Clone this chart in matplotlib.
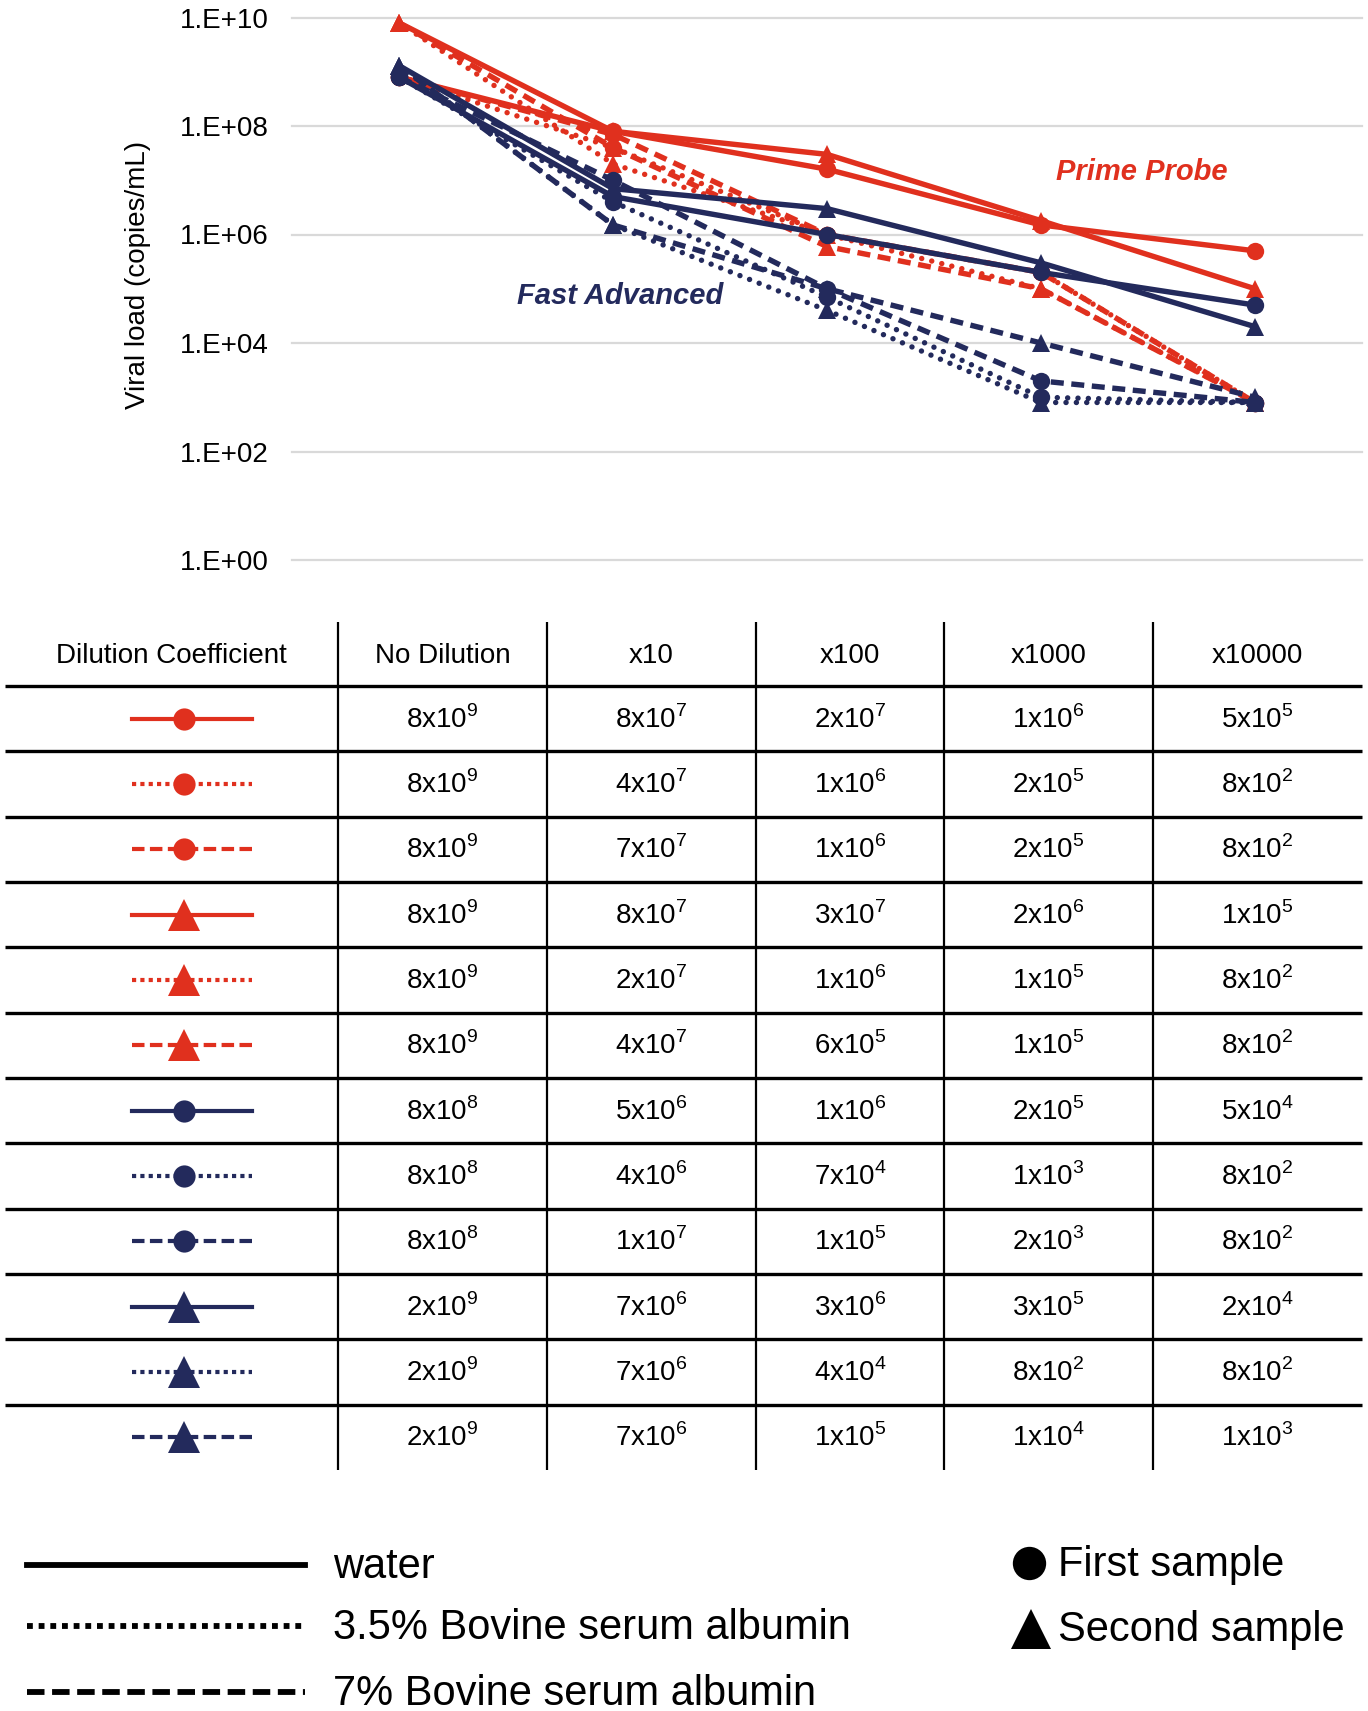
import matplotlib.pyplot as plt
import numpy as np

plt.rcParams['font.family'] = ['Liberation Sans', 'DejaVu Sans']
plt.rcParams['mathtext.fontset'] = 'custom'
plt.rcParams['mathtext.rm'] = 'Liberation Sans'

RED = '#E0301E'
NAVY = '#232A5C'

dilutions = ['No Dilution', 'x10', 'x100', 'x1000', 'x10000']
y_ticks = [1e0, 1e2, 1e4, 1e6, 1e8, 1e10]
y_tick_labels = ['1.E+00', '1.E+02', '1.E+04', '1.E+06', '1.E+08', '1.E+10']

# values as plotted in the chart (copies/mL)
pp_water_1 = [8e8, 8e7, 1.6e7, 1.5e6, 5e5]
pp_bsa35_1 = [8e8, 4e7, 1e6, 2e5, 8e2]
pp_bsa7_1 = [8e8, 7e7, 1e6, 2e5, 8e2]
pp_water_2 = [8e9, 8e7, 3e7, 1.8e6, 1e5]
pp_bsa35_2 = [8e9, 2e7, 1e6, 1e5, 8e2]
pp_bsa7_2 = [8e9, 4e7, 6e5, 1e5, 8e2]
fa_water_1 = [8e8, 5e6, 1e6, 2e5, 5e4]
fa_bsa35_1 = [8e8, 4e6, 7e4, 1e3, 8e2]
fa_bsa7_1 = [8e8, 1e7, 1e5, 2e3, 8e2]
fa_water_2 = [1.3e9, 7e6, 3e6, 3e5, 2e4]
fa_bsa35_2 = [1.3e9, 1.5e6, 4e4, 8e2, 8e2]
fa_bsa7_2 = [1.3e9, 1.5e6, 1e5, 1e4, 1e3]

# values printed in the table (mantissa x 10^exponent)
table_values = [
    ['8x10^9', '8x10^7', '2x10^7', '1x10^6', '5x10^5'],
    ['8x10^9', '4x10^7', '1x10^6', '2x10^5', '8x10^2'],
    ['8x10^9', '7x10^7', '1x10^6', '2x10^5', '8x10^2'],
    ['8x10^9', '8x10^7', '3x10^7', '2x10^6', '1x10^5'],
    ['8x10^9', '2x10^7', '1x10^6', '1x10^5', '8x10^2'],
    ['8x10^9', '4x10^7', '6x10^5', '1x10^5', '8x10^2'],
    ['8x10^8', '5x10^6', '1x10^6', '2x10^5', '5x10^4'],
    ['8x10^8', '4x10^6', '7x10^4', '1x10^3', '8x10^2'],
    ['8x10^8', '1x10^7', '1x10^5', '2x10^3', '8x10^2'],
    ['2x10^9', '7x10^6', '3x10^6', '3x10^5', '2x10^4'],
    ['2x10^9', '7x10^6', '4x10^4', '8x10^2', '8x10^2'],
    ['2x10^9', '7x10^6', '1x10^5', '1x10^4', '1x10^3'],
]

media = ['water', '3.5% Bovine serum albumin', '7% Bovine serum albumin']
samples = ['First sample', 'Second sample']

series = [pp_water_1, pp_bsa35_1, pp_bsa7_1, pp_water_2, pp_bsa35_2, pp_bsa7_2,
          fa_water_1, fa_bsa35_1, fa_bsa7_1, fa_water_2, fa_bsa35_2, fa_bsa7_2]
colors = [RED] * 6 + [NAVY] * 6
kinds = ['solid', 'dot', 'dash'] * 4
markers = ['o', 'o', 'o', '^', '^', '^'] * 2

plot_dash = {'solid': '-', 'dot': (0, (0.01, 1.9)), 'dash': (0, (2.4, 1.4))}
swatch_dash = {'solid': '-', 'dot': (0, (1, 1)), 'dash': (0, (3, 1.3))}


def sup(s):
    base, exp = s.split('^')
    return base + r'$^{\mathregular{' + exp + '}}$'


W, H = 1368, 1711
fig = plt.figure(figsize=(W / 100, H / 100), dpi=100)

# chart
ax = fig.add_axes([292 / W, 1 - 560 / H, 1070 / W, (560 - 17.5) / H])
x = np.arange(len(dilutions))
order = [2, 1, 5, 4, 0, 3, 8, 7, 11, 10, 6, 9]
for i in order:
    ax.plot(x, series[i], color=colors[i], linestyle=plot_dash[kinds[i]],
            lw=3.9, marker=markers[i], ms=13 if markers[i] == '^' else 12.5,
            mew=0, dash_capstyle='round' if kinds[i] == 'dot' else 'butt',
            zorder=3 if colors[i] == NAVY else 2, clip_on=False)
ax.set_yscale('log')
ax.set_ylim(1, 1e10)
ax.set_xlim(-0.5, len(dilutions) - 0.5)
ax.set_yticks(y_ticks)
ax.set_yticklabels(y_tick_labels, fontsize=20)
ax.minorticks_off()
ax.set_xticks([])
ax.tick_params(axis='y', length=0, pad=17)
ax.grid(axis='y', color='#D9D9D9', lw=1.6)
for gl in ax.get_ygridlines():
    gl.set_clip_on(False)
ax.set_axisbelow(True)
for s in ax.spines.values():
    s.set_visible(False)

# overlay in pixel coordinates for texts, table and legend
ov = fig.add_axes([0, 0, 1, 1])
ov.set_xlim(0, W)
ov.set_ylim(H, 0)
ov.axis('off')

ov.text(138, 275, 'Viral load (copies/mL)', rotation=90, ha='center', va='center', fontsize=20)
ov.text(1142, 172, 'Prime Probe', color=RED, fontsize=21, weight='bold', style='italic',
        ha='center', va='center')
ov.text(620, 296, 'Fast Advanced', color=NAVY, fontsize=21, weight='bold', style='italic',
        ha='center', va='center')

# table
col_edges = [5, 338, 547, 756, 944, 1153, 1362]
top, head_bot, bot = 622, 686, 1470
row_h = (bot - head_bot) / len(table_values)
for xe in col_edges[1:-1]:
    ov.plot([xe, xe], [top, bot], color='black', lw=1.6, solid_capstyle='butt')
for r in range(len(table_values)):
    yl = head_bot + r * row_h
    ov.plot([col_edges[0], col_edges[-1]], [yl, yl], color='black', lw=2.4, solid_capstyle='butt')

centers = [(col_edges[i] + col_edges[i + 1]) / 2 for i in range(len(col_edges) - 1)]
headers = ['Dilution Coefficient'] + dilutions
head_y = (top + head_bot) / 2 + 9
for c, h in zip(centers, headers):
    ov.text(c, head_y, h, ha='center', va='baseline', fontsize=20)

for r, row in enumerate(table_values):
    yc = head_bot + (r + 0.5) * row_h
    ov.plot([132, 252], [yc, yc], color=colors[r], lw=3.0,
            linestyle=swatch_dash[kinds[r]], dash_capstyle='butt')
    ov.plot([184], [yc], marker=markers[r], color=colors[r], mew=0,
            ms=23 if markers[r] == '^' else 16)
    for c, v in zip(centers[1:], row):
        ov.text(c, yc + 9, sup(v), ha='center', va='baseline', fontsize=20)

# legend
leg_y = [1565, 1626, 1692]
for k, (name, yl) in enumerate(zip(media, leg_y)):
    ov.plot([27, 305], [yl, yl], color='black', lw=4.2,
            linestyle=swatch_dash[['solid', 'dot', 'dash'][k]], dash_capstyle='butt')
    ov.text(333, yl + 13, name, fontsize=30, va='baseline')
ov.plot([1029], [1563], marker='o', ms=24, color='black', mew=0)
ov.plot([1031], [1629], marker='^', ms=29, color='black', mew=0)
ov.text(1058, 1576, samples[0], fontsize=30, va='baseline')
ov.text(1058, 1641, samples[1], fontsize=30, va='baseline')

fig.savefig('out.png', dpi=100)
